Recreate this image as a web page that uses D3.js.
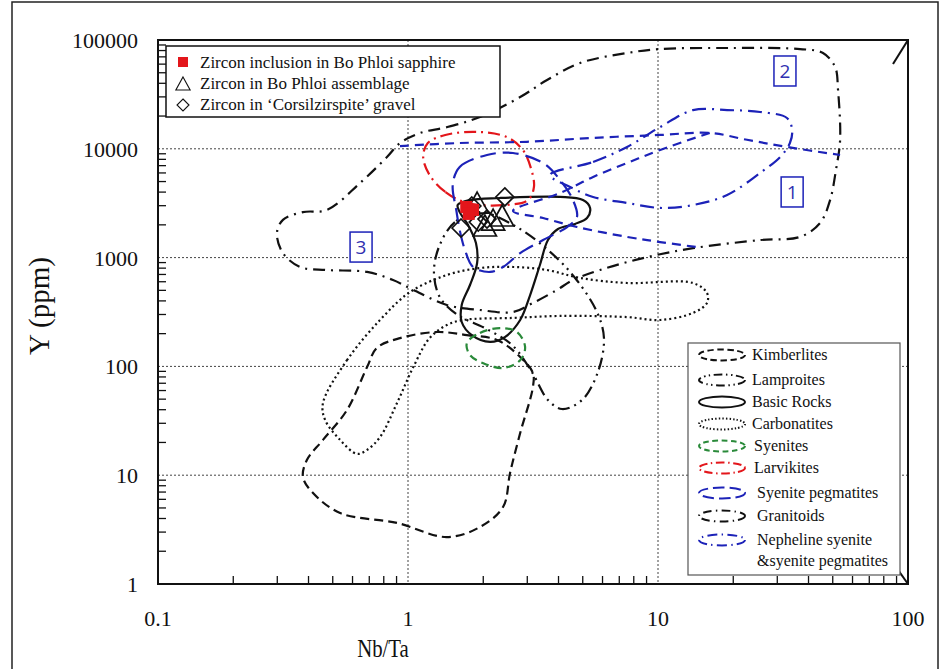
<!DOCTYPE html>
<html>
<head>
<meta charset="utf-8">
<script src="https://cdn.jsdelivr.net/npm/d3@7"></script>
<style>
  html, body { margin: 0; padding: 0; background: #fff; }
  svg { display: block; }
  text { font-family: "Liberation Serif", "Times New Roman", serif; fill: #111; }
</style>
</head>
<body>
<svg id="chart" width="943" height="669"></svg>
<script>
// Axis ticks
const xTickValues = [0.1, 1, 10, 100];
const xTickLabels = ["0.1", "1", "10", "100"];
const yTickValues = [1, 10, 100, 1000, 10000, 100000];
const yTickLabels = ["1", "10", "100", "1000", "10000", "100000"];

// Field outlines, [Nb/Ta, Y ppm]
const kimberlites = [[1.31,207],[1.72,194],[2.27,175],[2.81,122],[3.16,87],[3.16,64.7],[2.81,24.4],[2.56,10.5],[2.40,5.10],[1.94,3.34],[1.43,2.70],[0.904,3.64],[0.535,4.49],[0.417,6.86],[0.380,9.62],[0.394,13.8],[0.457,21.1],[0.570,39.7],[0.686,98.7],[0.751,148],[0.929,182]];
const lamproites = [[1.94,2620],[1.54,2120],[1.34,1310],[1.27,738],[1.34,434],[1.58,297],[2.03,225],[2.61,157],[3.13,88.8],[3.63,49.1],[4.13,40.6],[4.97,49.1],[5.75,88.8],[6.08,182],[5.70,316],[4.66,650],[3.63,1175],[2.68,1950]];
const basicRocks = [[1.58,3040],[1.77,3380],[2.33,3530],[4.06,3610],[5.01,3380],[5.35,2860],[5.20,2310],[4.66,2040],[3.98,1830],[3.63,1450],[3.37,855],[3.08,453],[2.81,267],[2.44,186],[2.13,168],[1.80,194],[1.64,256],[1.64,367],[1.77,560],[1.89,892],[1.87,1360],[1.74,1990],[1.61,2620]];
const carbonatites = [[0.457,46.1],[0.570,114],[0.773,267],[1.02,483],[1.43,692],[1.94,802],[2.63,820],[3.60,769],[4.88,650],[7.52,584],[13.8,584],[15.7,473],[15.7,383],[13.8,310],[10.2,267],[7.52,284],[4.06,291],[2.63,279],[1.66,267],[1.43,240],[1.22,182],[1.05,98.7],[0.904,46.1],[0.773,22.4],[0.686,17.1],[0.625,15.7],[0.535,21.1],[0.466,32.2]];
const syenites = [[1.72,164],[1.94,203],[2.33,225],[2.73,207],[2.94,151],[2.81,114],[2.40,96.7],[2.00,107],[1.77,127]];
const larvikites = [[1.72,3180],[1.41,4010],[1.22,5740],[1.15,8410],[1.20,11300],[1.41,13400],[1.89,14300],[2.49,12800],[2.88,9750],[3.10,6670],[3.19,4460],[3.02,3380],[2.44,3040]];
const syenitePegmatites = [[1.51,4650],[1.61,6810],[2.07,8770],[2.63,9150],[3.47,7400],[4.06,5160],[4.57,3380],[4.74,2360],[4.33,1910],[3.47,1450],[2.81,1100],[2.40,820],[2.13,738],[1.82,820],[1.69,1175],[1.61,1790],[1.56,2740]];
const granitoids = [[1.12,14000],[1.43,15800],[1.94,19600],[2.81,29900],[3.60,42900],[4.88,61500],[7.52,75900],[10.2,82600],[18.9,84400],[37.0,82600],[45.7,75900],[51.1,56500],[52.5,34700],[53.5,12000],[51.5,6380],[48.8,3380],[44.5,2080],[37.0,1550],[25.6,1450],[13.8,1220],[8.71,990],[5.86,769],[4.57,622],[3.94,504],[3.16,383],[2.63,316],[1.94,330],[1.43,367],[1.05,504],[0.871,622],[0.686,738],[0.474,769],[0.370,820],[0.316,1100],[0.299,1680],[0.316,2220],[0.380,2620],[0.474,2740],[0.643,4850],[0.824,8410],[0.929,11300]];
const nephelineSyenite = [[3.70,5740],[5.50,7570],[7.52,10400],[10.2,15850],[13.8,22700],[18.9,22700],[25.6,21800],[32.8,19200],[34.4,14900],[33.7,11300],[30.8,8410],[25.6,6000],[18.9,3760],[13.8,3040],[10.2,2860],[7.52,3180],[5.50,3610],[4.45,4460]];
// Open pegmatite trend outlines
const pegmatiteTrendUpper = [[0.929,10600],[1.61,11300],[2.99,11600],[5.50,12600],[10.2,13400],[16.1,14000],[22.7,12100],[32.8,10400],[53.5,8770]];
const pegmatiteTrendLower = [[16.1,14000],[10.2,9750],[7.52,7400],[5.50,5510],[4.06,3920],[2.63,2680],[3.47,2310],[4.74,1910],[7.52,1550],[10.2,1390],[14.3,1250]];
// Short solid strokes at the plot corners
const cornerTop = [[87.1,60100],[100,100000]];
const cornerBottom = [[91.2,1.35],[100,1]];

// Zircon analyses, [Nb/Ta, Y ppm]
const sapphireInclusions = [[1.71,2920],[1.82,2740],[1.75,2520]];
const assemblageZircons = [[1.89,3040],[2.03,1870],[2.38,2310],[2.19,2120]];
const gravelZircons = [[2.44,3610],[1.63,1870],[2.07,2260],[1.91,2120],[1.80,2980]];

// Field numbers
const fieldNumbers = ["1", "2", "3"];
const fieldNumberPos = [[34.4,4010],[32.2,51900],[0.649,1250]];

const legendFieldNames = ["Kimberlites","Lamproites","Basic Rocks","Carbonatites","Syenites","Larvikites","Syenite pegmatites","Granitoids","Nepheline syenite"];
const sampleNames = ["Zircon inclusion in Bo Phloi sapphire","Zircon in Bo Phloi assemblage","Zircon in \u2018Corsilzirspite\u2019 gravel"];

const BLUE = "#1c22b8", RED = "#e3161b", GREEN = "#2a8a3a", BLACK = "#111";
const fieldStyles = [
  {data: kimberlites, color: BLACK, dash: "9,5"},
  {data: lamproites, color: BLACK, dash: "12,5,2,5,2,5"},
  {data: basicRocks, color: BLACK, dash: null},
  {data: carbonatites, color: BLACK, dash: "2,3"},
  {data: syenites, color: GREEN, dash: "8,5"},
  {data: larvikites, color: RED, dash: "12,5,2,5"},
  {data: syenitePegmatites, color: BLUE, dash: "16,7"},
  {data: granitoids, color: BLACK, dash: "12,6,2,6"},
  {data: nephelineSyenite, color: BLUE, dash: "14,6,2,6"}
];

const svg = d3.select("#chart");
const x = d3.scaleLog().domain([0.1, 100]).range([158, 908]);
const y = d3.scaleLog().domain([1, 100000]).range([584, 40]);

// Outer frame
svg.append("rect").attr("x", 12).attr("y", 2).attr("width", 926).attr("height", 720)
  .attr("fill", "none").attr("stroke", "#222").attr("stroke-width", 1.5);

svg.append("clipPath").attr("id", "plotClip").append("rect")
  .attr("x", 158).attr("y", 40).attr("width", 750).attr("height", 544);

// Grid
const grid = svg.append("g");
[1, 10].forEach(v => grid.append("line").attr("x1", x(v)).attr("x2", x(v)).attr("y1", 40).attr("y2", 584)
  .attr("stroke", "#444").attr("stroke-width", 1).attr("stroke-dasharray", "2,2"));
[10, 100, 1000, 10000].forEach(v => grid.append("line").attr("x1", 158).attr("x2", 908).attr("y1", y(v)).attr("y2", y(v))
  .attr("stroke", "#444").attr("stroke-width", 1).attr("stroke-dasharray", "2,2"));

// Minor ticks, pointing inward
const ticks = svg.append("g").attr("stroke", "#111").attr("stroke-width", 1.3);
for (let d = 0.1; d < 99; d *= 10) for (let k = 2; k <= 9; k++) {
  const v = d * k;
  ticks.append("line").attr("x1", x(v)).attr("x2", x(v)).attr("y1", 584).attr("y2", 576);
}
for (let d = 1; d < 99999; d *= 10) for (let k = 2; k <= 9; k++) {
  const v = d * k;
  ticks.append("line").attr("x1", 158).attr("x2", 166).attr("y1", y(v)).attr("y2", y(v));
}

// Fields
const closed = d3.line().x(d => x(d[0])).y(d => y(d[1])).curve(d3.curveCatmullRomClosed.alpha(0.5));
const open = d3.line().x(d => x(d[0])).y(d => y(d[1])).curve(d3.curveCatmullRom.alpha(0.5));
const fieldsG = svg.append("g").attr("clip-path", "url(#plotClip)");
fieldStyles.forEach(f => {
  fieldsG.append("path").attr("d", closed(f.data)).attr("fill", "none")
    .attr("stroke", f.color).attr("stroke-width", 2.2)
    .attr("stroke-dasharray", f.dash);
});
[pegmatiteTrendUpper, pegmatiteTrendLower].forEach(t => {
  fieldsG.append("path").attr("d", open(t)).attr("fill", "none")
    .attr("stroke", BLUE).attr("stroke-width", 2.2).attr("stroke-dasharray", "9,6");
});
[cornerTop, cornerBottom].forEach(t => {
  svg.append("path").attr("d", d3.line().x(d => x(d[0])).y(d => y(d[1]))(t))
    .attr("fill", "none").attr("stroke", BLACK).attr("stroke-width", 2);
});

// Field numbers
fieldNumbers.forEach((n, i) => {
  const px = x(fieldNumberPos[i][0]), py = y(fieldNumberPos[i][1]);
  svg.append("rect").attr("x", px - 11).attr("y", py - 15).attr("width", 22).attr("height", 30)
    .attr("fill", "#fff").attr("stroke", BLUE).attr("stroke-width", 1.5);
  svg.append("text").attr("x", px).attr("y", py + 7).attr("text-anchor", "middle")
    .style("font-family", "'Open Sans', 'Liberation Sans', sans-serif").style("font-size", "19px")
    .style("fill", "#3030b0").text(n);
});

// Sample markers
const triPath = s => `M0,${-s*0.62}L${s*0.55},${s*0.38}L${-s*0.55},${s*0.38}Z`;
const diaPath = s => `M0,${-s/2}L${s/2},0L0,${s/2}L${-s/2},0Z`;
const markers = svg.append("g");
gravelZircons.forEach(d => markers.append("path").attr("d", diaPath(18))
  .attr("transform", `translate(${x(d[0])},${y(d[1])})`).attr("fill", "none").attr("stroke", BLACK).attr("stroke-width", 1.7));
assemblageZircons.forEach(d => markers.append("path").attr("d", triPath(21))
  .attr("transform", `translate(${x(d[0])},${y(d[1])})`).attr("fill", "none").attr("stroke", BLACK).attr("stroke-width", 1.7));
sapphireInclusions.forEach(d => markers.append("rect")
  .attr("x", x(d[0]) - 6).attr("y", y(d[1]) - 6).attr("width", 12).attr("height", 12).attr("fill", RED));

// Axes border
svg.append("rect").attr("x", 158).attr("y", 40).attr("width", 750).attr("height", 544)
  .attr("fill", "none").attr("stroke", "#111").attr("stroke-width", 2);

// Tick labels
xTickValues.forEach((v, i) => svg.append("text").attr("x", x(v)).attr("y", 626)
  .attr("text-anchor", "middle").style("font-size", "22px").text(xTickLabels[i]));
yTickValues.forEach((v, i) => svg.append("text").attr("x", 138).attr("y", y(v) + 8)
  .attr("text-anchor", "end").style("font-size", "22px").text(yTickLabels[i]));

// Axis titles
svg.append("text").attr("transform", "translate(383,657) scale(0.8,1)")
  .attr("text-anchor", "middle").style("font-size", "26px").text("Nb/Ta");
svg.append("text").attr("transform", "translate(49,306) rotate(-90)")
  .attr("text-anchor", "middle").style("font-size", "29px").text("Y (ppm)");

// Sample legend
const lg1 = svg.append("g");
lg1.append("rect").attr("x", 166).attr("y", 46).attr("width", 334).attr("height", 71)
  .attr("fill", "#fff").attr("stroke", "#111").attr("stroke-width", 1.5);
lg1.append("rect").attr("x", 178).attr("y", 57).attr("width", 10).attr("height", 10).attr("fill", RED);
lg1.append("path").attr("d", triPath(13)).attr("transform", "translate(183,85)")
  .attr("fill", "none").attr("stroke", BLACK).attr("stroke-width", 1.1);
lg1.append("path").attr("d", diaPath(12)).attr("transform", "translate(183,105)")
  .attr("fill", "none").attr("stroke", BLACK).attr("stroke-width", 1.1);
sampleNames.forEach((t, i) => lg1.append("text").attr("x", 200).attr("y", 68 + i * 21)
  .style("font-size", "17px").text(t));

// Field legend
const lg2 = svg.append("g");
lg2.append("rect").attr("x", 688).attr("y", 343).attr("width", 212).attr("height", 232)
  .attr("fill", "#fff").attr("stroke", "#555").attr("stroke-width", 1.2);
const rowY = [355, 380, 402, 424, 446, 468, 493, 516, 540];
const textX = [752, 752, 752, 752, 754, 754, 757, 757, 757];
fieldStyles.forEach((f, i) => {
  lg2.append("ellipse").attr("cx", 722).attr("cy", rowY[i]).attr("rx", 23).attr("ry", 5.5)
    .attr("fill", "none").attr("stroke", f.color).attr("stroke-width", 2)
    .attr("stroke-dasharray", f.dash ? f.dash.split(",").map(v => v * 0.7).join(",") : null);
  lg2.append("text").attr("x", textX[i]).attr("y", rowY[i] + 5).style("font-size", "16px").text(legendFieldNames[i]);
});
lg2.append("text").attr("x", 757).attr("y", 566).style("font-size", "16px").text("&syenite pegmatites");
</script>
</body>
</html>
